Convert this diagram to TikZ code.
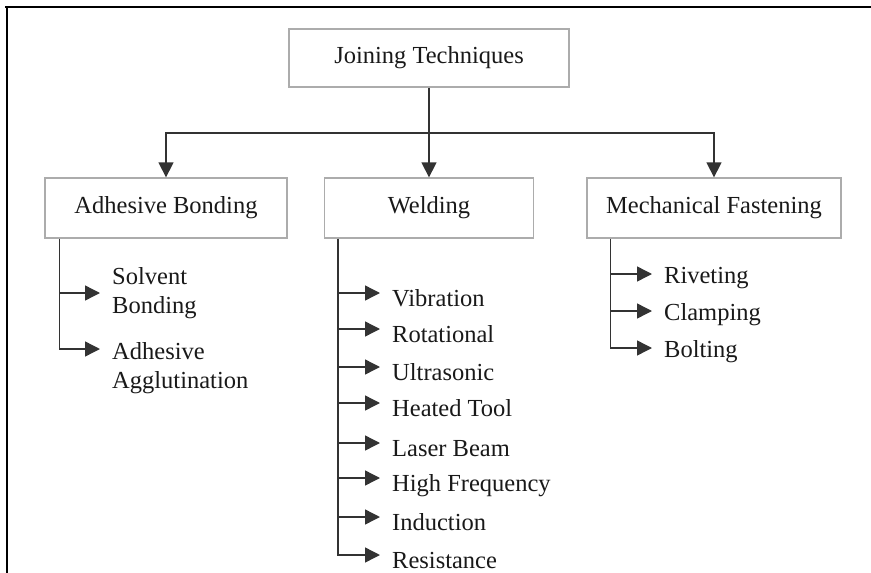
\documentclass[tikz,border=0pt]{standalone}
\usepackage{fontspec}
\setmainfont{Liberation Serif}
\usetikzlibrary{arrows.meta}
\newcommand\labelfont[0]{\fontsize{24.5}{29}\selectfont}

\tikzset{
  box/.style={draw=gray!65, line width=1.3pt, text=black!90, font=\labelfont},
  item/.style={anchor=west, inner xsep=12pt, inner ysep=0pt, text height=18pt, text depth=0pt, text=black!90, font=\labelfont},
  witem/.style={item, text height=26pt},
  item2/.style={anchor=west, align=left, inner xsep=12pt, inner ysep=0pt, text=black!90, font=\labelfont},
  link/.style={draw=black!80, line width=1.4pt},
  arr/.style={link, -{Triangle[length=15pt,width=15pt]}},
}

\begin{document}
\begin{tikzpicture}[x=1pt,y=-1pt]

\useasboundingbox (0,0) rectangle (871,573);
\draw[line width=2.5pt] (5,7) -- (871,7);
\draw[line width=2.5pt] (7,7) -- (7,573);

\node[box, minimum width=280pt, minimum height=58pt] (root) at (429,58) {Joining Techniques};
\node[box, minimum width=242pt, minimum height=60pt] (adh) at (166,208) {Adhesive Bonding};
\node[box, minimum width=209pt, minimum height=60pt] (weld) at (429,208) {Welding};
\node[box, minimum width=254pt, minimum height=60pt] (mech) at (714,208) {Mechanical Fastening};

\coordinate (bus) at (429,133);
\draw[link] (root.south) -- (bus);
\draw[arr] (bus) -- (weld.north);
\draw[arr] (bus) -| (adh.north);
\draw[arr] (bus) -| (mech.north);

% adhesive bonding
\node[item2] (solv) at (100,293) {Solvent\\Bonding};
\node[item2] (aggl) at (100,368) {Adhesive\\Agglutination};
\coordinate (adhtop) at ([xshift=15pt]adh.south west);
\draw[arr] (adhtop |- solv.west) -- (solv.west);
\draw[arr] (adhtop) |- ([yshift=19pt]aggl.west);

% welding
\node[witem] (vib) at (380,293) {Vibration};
\node[witem] (rot) at (380,329) {Rotational};
\node[witem] (ult) at (380,367) {Ultrasonic};
\node[witem] (heat) at (380,403) {Heated Tool};
\node[witem] (laser) at (380,443) {Laser Beam};
\node[witem] (hf) at (380,478) {High Frequency};
\node[witem] (ind) at (380,517) {Induction};
\node[witem] (res) at (380,555) {Resistance};
\coordinate (weldtop) at ([xshift=14pt]weld.south west);
\foreach \n in {vib,rot,ult,heat,laser,hf,ind}
  \draw[arr] (weldtop |- \n.west) -- (\n.west);
\draw[arr] (weldtop) |- (res.west);

% mechanical fastening
\node[item] (rivet) at (652,274) {Riveting};
\node[item] (clamp) at (652,311) {Clamping};
\node[item] (bolt) at (652,348) {Bolting};
\coordinate (mechtop) at ([xshift=24pt]mech.south west);
\draw[arr] (mechtop |- rivet.west) -- (rivet.west);
\draw[arr] (mechtop |- clamp.west) -- (clamp.west);
\draw[arr] (mechtop) |- (bolt.west);

\end{tikzpicture}
\end{document}
